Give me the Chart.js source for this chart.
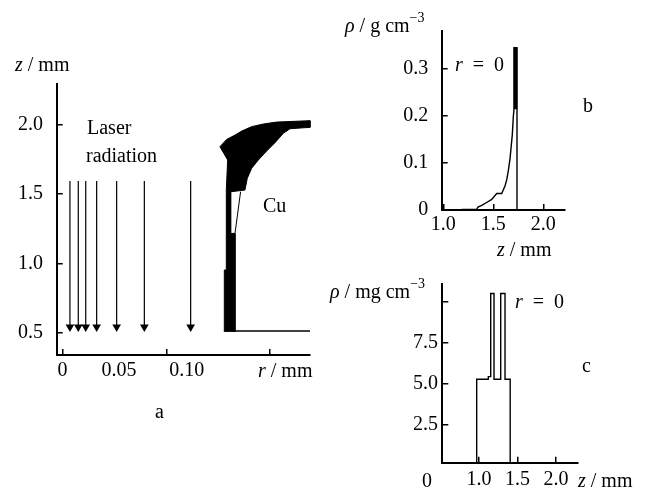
<!DOCTYPE html>
<html>
<head>
<meta charset="utf-8">
<script src="https://cdn.jsdelivr.net/npm/chart.js@4.4.1/dist/chart.umd.min.js"></script>
<style>
  html, body { margin: 0; padding: 0; background: #fff; width: 645px; height: 492px; overflow: hidden; }
  canvas { position: absolute; }
  #panel-a { left: 0; top: 0; }
  #panel-b { left: 320px; top: 0; }
  #panel-c { left: 320px; top: 262px; }
</style>
</head>
<body>
<canvas id="panel-a" width="330" height="440"></canvas>
<canvas id="panel-b" width="325" height="262"></canvas>
<canvas id="panel-c" width="325" height="230"></canvas>
<script>
const serif = '"Liberation Serif", "Times New Roman", serif';

// panel a: laser beams hitting the Cu target (r, z in mm)
const aYTicks = [0.5, 1.0, 1.5, 2.0];
const aXLabelVals = [0, 0.0455, 0.1];
const aXLabelText = ["0", "0.05", "0.10"];
const aXMarkVals = [0, 0.0839, 0.1665];
const arrowR = [0.006, 0.0127, 0.0187, 0.0275, 0.0436, 0.0659, 0.1032];
const arrowTop = 1.595;
const arrowHead = 0.541;
const cuR = [0.1303, 0.1303, 0.1319, 0.1319, 0.1330, 0.1268, 0.1322, 0.1389, 0.1443, 0.1523, 0.1617, 0.1724, 0.1993,
  0.1993, 0.1832, 0.1778, 0.1711, 0.1644, 0.1577, 0.1523, 0.1488, 0.1469, 0.1354, 0.1354, 0.1389, 0.1389];
const cuZ = [0.507, 0.953, 0.953, 1.530, 1.747, 1.843, 1.896, 1.927, 1.956, 1.988, 2.007, 2.021, 2.031,
  1.983, 1.973, 1.940, 1.872, 1.812, 1.747, 1.687, 1.615, 1.530, 1.518, 1.217, 1.217, 0.507];
const cuEdgeR = [0.1434, 0.1389];
const cuEdgeZ = [1.518, 1.217];
const cuBaseR = [0.1303, 0.1993];
const cuBaseZ = 0.512;
// light streaks inside the contour bundle
const cuGapR = [[0.1290, 0.1318, 0.1333, 0.1348, 0.1362, 0.1380],
  [0.1400, 0.1418, 0.1440, 0.1468, 0.1500, 0.1560],
  [0.1442, 0.1455, 0.1472],
  [0.1540, 0.1580, 0.1620, 0.1660]];
const cuGapZ = [[1.838, 1.860, 1.832, 1.872, 1.842, 1.888],
  [1.800, 1.850, 1.828, 1.900, 1.878, 1.950],
  [1.700, 1.760, 1.738],
  [1.945, 1.962, 1.950, 1.970]];

// panel b: density on the axis, g/cm^3
const bXTicks = [1.0, 1.5, 2.0];
const bYTicks = [0, 0.1, 0.2, 0.3];
const bZ = [1.184, 1.334, 1.347, 1.384, 1.434, 1.484, 1.534, 1.584, 1.617, 1.634, 1.650, 1.667, 1.677, 1.690,
  1.700, 1.707, 1.707, 1.737, 1.737];
const bRho = [0.0013, 0.0013, 0.0063, 0.0096, 0.0159, 0.0224, 0.0350, 0.0350, 0.0511, 0.0638, 0.0829, 0.1086,
  0.1308, 0.1595, 0.1978, 0.2139, 0.3446, 0.3446, 0];
const bPeakZ = 1.722;
const bPeakRho = [0.2139, 0.3446];

// panel c: density on the axis, mg/cm^3
const cXTicks = [1.0, 1.5, 2.0];
const cYTicks = [2.5, 5.0, 7.5, 10];
const cZ = [0.970, 0.970, 1.121, 1.121, 1.152, 1.152, 1.195, 1.195, 1.282, 1.282, 1.338, 1.338, 1.405, 1.405];
const cRho = [0.21, 5.29, 5.29, 5.45, 5.45, 10.51, 10.51, 5.29, 5.29, 10.51, 10.51, 5.29, 5.29, 0.21];

Chart.defaults.font.family = serif;
Chart.defaults.font.size = 20;
Chart.defaults.color = "#000";

const pts = (xs, ys) => xs.map((x, i) => ({ x: x, y: Array.isArray(ys) ? ys[i] : ys }));

function line(data, extra) {
  return Object.assign({
    data: data,
    borderColor: "#000",
    backgroundColor: "#000",
    borderWidth: 1.4,
    pointRadius: 0,
    fill: false,
    clip: false,
  }, extra || {});
}

function axis(min, max, ticks, o) {
  const grid = { drawOnChartArea: false, tickLength: -6, color: "#000", lineWidth: 1.5 };
  if (o.tickColor) grid.tickColor = o.tickColor;
  return {
    type: "linear",
    min: min,
    max: max,
    afterBuildTicks: (s) => { s.ticks = ticks.map((v) => ({ value: v })); },
    afterFit: (s) => {
      if (o.width != null) s.width = o.width;
      if (o.height != null) s.height = o.height;
    },
    border: { color: "#000", width: 2 },
    grid: grid,
    ticks: { padding: o.pad, autoSkip: false, maxRotation: 0, callback: o.label },
  };
}

// text drawn with mixed italic / superscript pieces
function notes(items) {
  return {
    id: "notes",
    afterDraw(chart) {
      const ctx = chart.ctx;
      ctx.save();
      ctx.fillStyle = "#000";
      ctx.textBaseline = "alphabetic";
      items.forEach((item) => {
        let x = item.x;
        item.parts.forEach((p) => {
          ctx.font = (p.it ? "italic " : "") + (p.sup ? 14 : 20) + "px " + serif;
          ctx.fillText(p.t, x, item.y - (p.sup ? 10 : 0));
          x += ctx.measureText(p.t).width;
        });
      });
      ctx.restore();
    },
  };
}

function makeChart(id, datasets, scales, padding, texts) {
  return new Chart(document.getElementById(id), {
    type: "line",
    data: { datasets: datasets },
    options: {
      responsive: false,
      animation: false,
      layout: { padding: padding },
      scales: scales,
      plugins: { legend: { display: false }, tooltip: { enabled: false } },
    },
    plugins: [notes(texts)],
  });
}

// panel a
const aXTicks = aXLabelVals.concat(aXMarkVals.slice(1)).sort((p, q) => p - q);
const aSets = [
  line(pts(cuR, cuZ), { fill: "shape", borderWidth: 1 }),
  line(pts(cuEdgeR, cuEdgeZ), { borderWidth: 1 }),
  line(pts(cuBaseR, cuBaseZ)),
];
cuGapR.forEach((rs, i) => aSets.push(line(pts(rs, cuGapZ[i]), { borderColor: "#fff", borderWidth: 1 })));
arrowR.forEach((r) => {
  aSets.push(line(pts([r, r], [arrowTop, arrowHead]), { borderWidth: 1.2 }));
  aSets.push(line(pts([r], arrowHead), {
    showLine: false, pointRadius: 5, pointStyle: "triangle", rotation: 180,
    pointBorderWidth: 0, pointBackgroundColor: "#000",
  }));
});
makeChart("panel-a", aSets, {
  x: axis(-0.00467, 0.1993, aXTicks, {
    height: 45, pad: 10,
    label: (v) => { const k = aXLabelVals.indexOf(v); return k >= 0 ? aXLabelText[k] : ""; },
    tickColor: (c) => (c.tick && aXMarkVals.includes(c.tick.value) ? "#000" : "rgba(0,0,0,0)"),
  }),
  y: axis(0.339, 2.296, aYTicks, { width: 56.7, pad: 19.7, label: (v) => v.toFixed(1) }),
}, { left: 0, top: 84, right: 20, bottom: 40 }, [
  { x: 15, y: 71, parts: [{ t: "z", it: 1 }, { t: " / mm" }] },
  { x: 87, y: 134, parts: [{ t: "Laser" }] },
  { x: 86, y: 162, parts: [{ t: "radiation" }] },
  { x: 263, y: 212, parts: [{ t: "Cu" }] },
  { x: 258, y: 377, parts: [{ t: "r", it: 1 }, { t: " / mm" }] },
  { x: 155, y: 418, parts: [{ t: "a" }] },
]);

// panel b
makeChart("panel-b", [
  line(pts(bZ, bRho)),
  line(pts([bPeakZ, bPeakZ], bPeakRho), { borderWidth: 3.5 }),
], {
  x: axis(0.984, 2.217, bXTicks, { height: 40, pad: 9, label: (v) => v.toFixed(1) }),
  y: axis(0, 0.379, bYTicks, { width: 121.7, pad: 19.4, label: (v) => (v === 0 ? "0" : v.toFixed(1)) }),
}, { left: 0, top: 12, right: 80, bottom: 12 }, [
  { x: 25, y: 32, parts: [{ t: "ρ", it: 1 }, { t: " / g cm" }, { t: "−3", sup: 1 }] },
  { x: 135, y: 71, parts: [{ t: "r", it: 1 }, { t: "\u2002=\u20020" }] },
  { x: 263, y: 112, parts: [{ t: "b" }] },
  { x: 177, y: 256, parts: [{ t: "z", it: 1 }, { t: " / mm" }] },
]);

// panel c
makeChart("panel-c", [
  line(pts(cZ, cRho)),
], {
  x: axis(0.5234, 2.2857, cXTicks, { height: 25, pad: 11.3, label: (v) => v.toFixed(1) }),
  y: axis(0.21, 11.07, cYTicks, { width: 122.3, pad: 10.3, label: (v) => (v === 10 ? "" : v.toFixed(1)) }),
}, { left: 0, top: 11, right: 67, bottom: 4.3 }, [
  { x: 10, y: 36, parts: [{ t: "ρ", it: 1 }, { t: " / mg cm" }, { t: "−3", sup: 1 }] },
  { x: 195, y: 46, parts: [{ t: "r", it: 1 }, { t: "\u2002=\u20020" }] },
  { x: 262, y: 110, parts: [{ t: "c" }] },
  { x: 102, y: 225, parts: [{ t: "0" }] },
  { x: 258, y: 225, parts: [{ t: "z", it: 1 }, { t: " / mm" }] },
]);
</script>
</body>
</html>
